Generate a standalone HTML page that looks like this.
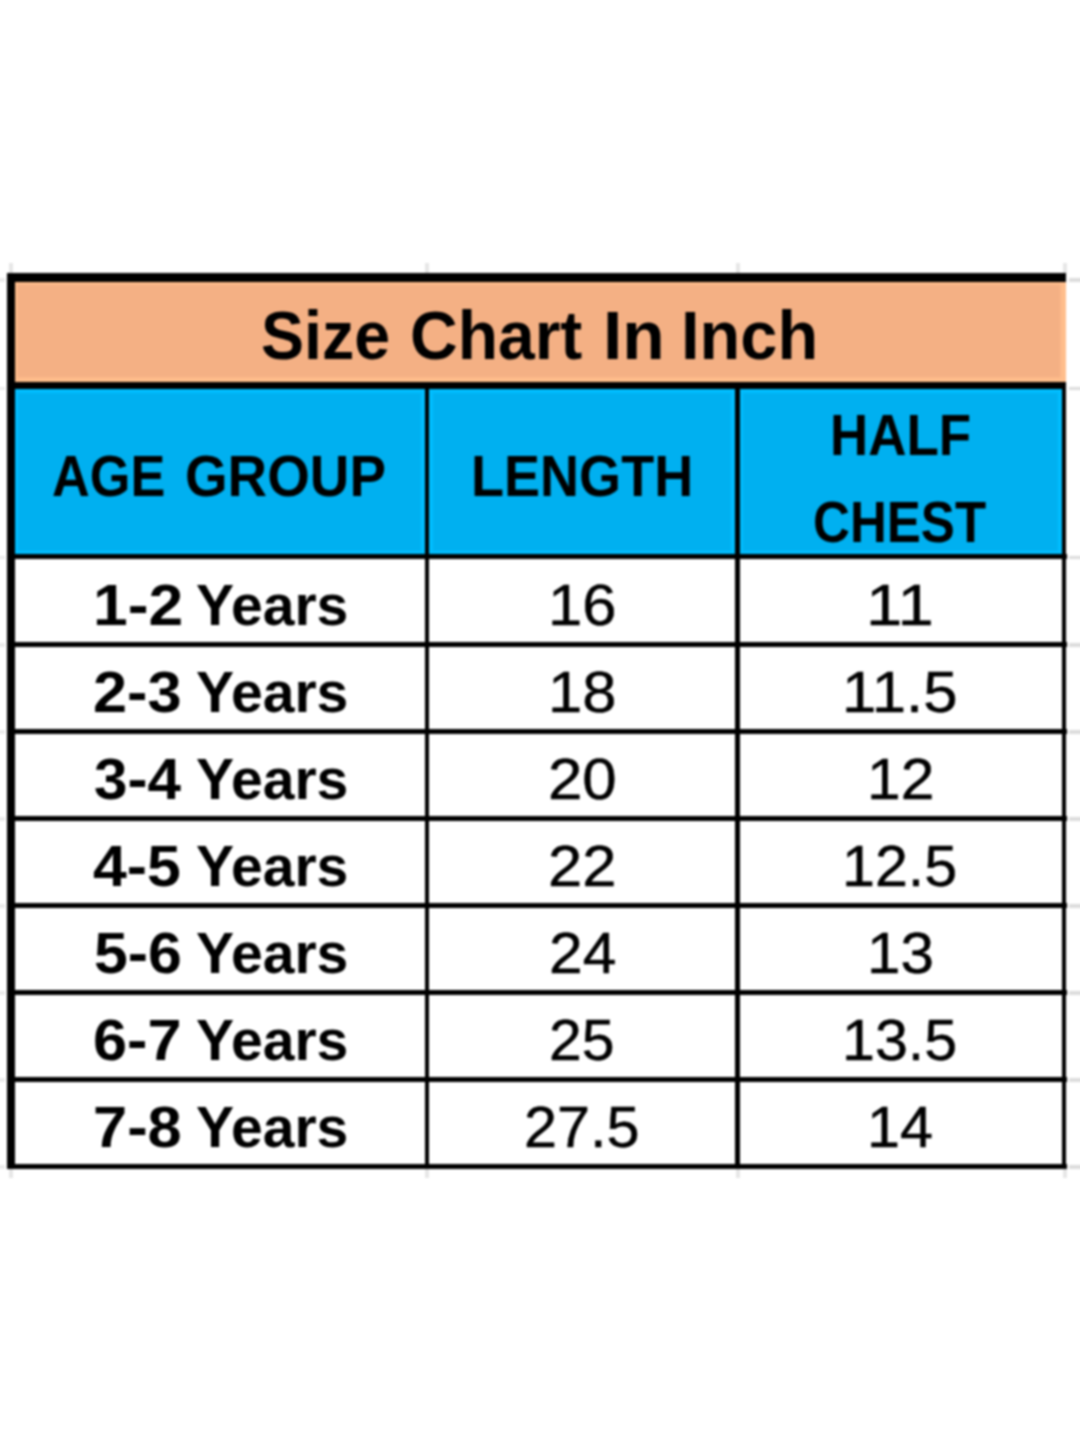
<!DOCTYPE html>
<html><head><meta charset="utf-8"><title>Size Chart In Inch</title>
<style>
html,body{margin:0;padding:0;background:#fff;}
body{width:1080px;height:1440px;position:relative;overflow:hidden;font-family:"Liberation Sans",sans-serif;color:#000;}
.r{position:absolute;}
.t{position:absolute;white-space:nowrap;transform-origin:0 0;font-weight:400;color:#000;-webkit-text-stroke:0.5px #000;}
.t.b{font-weight:700;color:#000;-webkit-text-stroke:0;}
#w{position:absolute;left:0;top:0;width:1080px;height:1440px;filter:blur(0.8px);}
</style></head><body><div id="w">
<div class="r" style="left:1069px;top:278.3px;width:21px;height:3.4px;background:#dcdcdc"></div>
<div class="r" style="left:-10px;top:278.3px;width:15px;height:3.4px;background:#ebebeb"></div>
<div class="r" style="left:1069px;top:386.5px;width:21px;height:3.4px;background:#dcdcdc"></div>
<div class="r" style="left:-10px;top:386.5px;width:15px;height:3.4px;background:#ebebeb"></div>
<div class="r" style="left:1069px;top:555.6px;width:21px;height:3.4px;background:#dcdcdc"></div>
<div class="r" style="left:-10px;top:555.6px;width:15px;height:3.4px;background:#ebebeb"></div>
<div class="r" style="left:1069px;top:643.3px;width:21px;height:3.4px;background:#dcdcdc"></div>
<div class="r" style="left:-10px;top:643.3px;width:15px;height:3.4px;background:#ebebeb"></div>
<div class="r" style="left:1069px;top:730.3px;width:21px;height:3.4px;background:#dcdcdc"></div>
<div class="r" style="left:-10px;top:730.3px;width:15px;height:3.4px;background:#ebebeb"></div>
<div class="r" style="left:1069px;top:817.3px;width:21px;height:3.4px;background:#dcdcdc"></div>
<div class="r" style="left:-10px;top:817.3px;width:15px;height:3.4px;background:#ebebeb"></div>
<div class="r" style="left:1069px;top:904.3px;width:21px;height:3.4px;background:#dcdcdc"></div>
<div class="r" style="left:-10px;top:904.3px;width:15px;height:3.4px;background:#ebebeb"></div>
<div class="r" style="left:1069px;top:991.3px;width:21px;height:3.4px;background:#dcdcdc"></div>
<div class="r" style="left:-10px;top:991.3px;width:15px;height:3.4px;background:#ebebeb"></div>
<div class="r" style="left:1069px;top:1078.3px;width:21px;height:3.4px;background:#dcdcdc"></div>
<div class="r" style="left:-10px;top:1078.3px;width:15px;height:3.4px;background:#ebebeb"></div>
<div class="r" style="left:1069px;top:1165.3px;width:21px;height:3.4px;background:#dcdcdc"></div>
<div class="r" style="left:-10px;top:1165.3px;width:15px;height:3.4px;background:#ebebeb"></div>
<div class="r" style="left:8.5px;top:263px;width:4px;height:10.5px;background:#e6e6e6"></div>
<div class="r" style="left:8.5px;top:1168.5px;width:4px;height:9.5px;background:#e6e6e6"></div>
<div class="r" style="left:425px;top:263px;width:4px;height:10.5px;background:#e6e6e6"></div>
<div class="r" style="left:425px;top:1168.5px;width:4px;height:9.5px;background:#e6e6e6"></div>
<div class="r" style="left:735.5px;top:263px;width:4px;height:10.5px;background:#e6e6e6"></div>
<div class="r" style="left:735.5px;top:1168.5px;width:4px;height:9.5px;background:#e6e6e6"></div>
<div class="r" style="left:1062.5px;top:263px;width:4px;height:10.5px;background:#e6e6e6"></div>
<div class="r" style="left:1062.5px;top:1168.5px;width:4px;height:9.5px;background:#e6e6e6"></div>
<div class="r" style="left:12px;top:279px;width:1053.7px;height:104px;background:#F4B084;box-shadow:inset 0 0 2px 5.5px #FFBE8C"></div>
<div class="r" style="left:12.4px;top:386.5px;width:414.4px;height:170.3px;background:#00B0F0;box-shadow:inset 0 0 2px 6px #00BEFF"></div>
<div class="r" style="left:426.5px;top:386.5px;width:310.7px;height:170.3px;background:#00B0F0;box-shadow:inset 0 0 2px 6px #00BEFF"></div>
<div class="r" style="left:737px;top:386.5px;width:327.2px;height:170.3px;background:#00B0F0;box-shadow:inset 0 0 2px 6px #00BEFF"></div>
<div class="r" style="left:7.2px;top:273.4px;width:1058.5px;height:8.2px;background:#000"></div>
<div class="r" style="left:7.2px;top:273.4px;width:7.4px;height:895.3px;background:#000"></div>
<div class="r" style="left:7.2px;top:382px;width:1058.5px;height:6.8px;background:#000"></div>
<div class="r" style="left:1062px;top:388px;width:4.3px;height:780.7px;background:#000"></div>
<div class="r" style="left:14px;top:554.2px;width:1052.5px;height:4.7px;background:#000"></div>
<div class="r" style="left:14px;top:641.7px;width:1052.5px;height:5px;background:#000"></div>
<div class="r" style="left:14px;top:728.7px;width:1052.5px;height:5px;background:#000"></div>
<div class="r" style="left:14px;top:815.7px;width:1052.5px;height:5px;background:#000"></div>
<div class="r" style="left:14px;top:902.7px;width:1052.5px;height:5px;background:#000"></div>
<div class="r" style="left:14px;top:989.7px;width:1052.5px;height:5px;background:#000"></div>
<div class="r" style="left:14px;top:1076.7px;width:1052.5px;height:5px;background:#000"></div>
<div class="r" style="left:14px;top:1163.7px;width:1052.5px;height:5px;background:#000"></div>
<div class="r" style="left:424.5px;top:388px;width:4.5px;height:780.7px;background:#000"></div>
<div class="r" style="left:735px;top:388px;width:4.6px;height:780.7px;background:#000"></div>
<div class="t b" style="left:261.07px;top:301.13px;font-size:68.36px;line-height:68.36px;transform:scaleX(0.9430)">Size</div>
<div class="t b" style="left:410.06px;top:301.13px;font-size:68.36px;line-height:68.36px;transform:scaleX(0.9655)">Chart</div>
<div class="t b" style="left:603.31px;top:301.13px;font-size:68.36px;line-height:68.36px;transform:scaleX(1.0162)">In</div>
<div class="t b" style="left:681.20px;top:301.13px;font-size:68.36px;line-height:68.36px;transform:scaleX(0.9759)">Inch</div>
<div class="t b" style="left:52.09px;top:446.75px;font-size:58.18px;line-height:58.18px;transform:scaleX(0.8984)">AGE</div>
<div class="t b" style="left:185.21px;top:446.75px;font-size:58.18px;line-height:58.18px;transform:scaleX(0.9420)">GROUP</div>
<div class="t b" style="left:470.85px;top:446.75px;font-size:58.18px;line-height:58.18px;transform:scaleX(0.9291)">LENGTH</div>
<div class="t b" style="left:830.43px;top:405.75px;font-size:58.18px;line-height:58.18px;transform:scaleX(0.9102)">HALF</div>
<div class="t b" style="left:813.06px;top:492.75px;font-size:58.18px;line-height:58.18px;transform:scaleX(0.8780)">CHEST</div>
<div class="t b" style="left:93.10px;top:575.75px;font-size:58.18px;line-height:58.18px;transform:scaleX(1.0729)">1-2</div>
<div class="t b" style="left:196.00px;top:575.75px;font-size:58.18px;line-height:58.18px;transform:scaleX(0.9812)">Years</div>
<div class="t" style="left:547.78px;top:575.75px;font-size:58.18px;line-height:58.18px;transform:scaleX(1.0581)">16</div>
<div class="t" style="left:866.21px;top:575.75px;font-size:58.18px;line-height:58.18px;transform:scaleX(1.1214)">11</div>
<div class="t b" style="left:92.85px;top:662.75px;font-size:58.18px;line-height:58.18px;transform:scaleX(1.0538)">2-3</div>
<div class="t b" style="left:196.00px;top:662.75px;font-size:58.18px;line-height:58.18px;transform:scaleX(0.9812)">Years</div>
<div class="t" style="left:547.78px;top:662.75px;font-size:58.18px;line-height:58.18px;transform:scaleX(1.0581)">18</div>
<div class="t" style="left:842.07px;top:662.75px;font-size:58.18px;line-height:58.18px;transform:scaleX(1.0606)">11.5</div>
<div class="t b" style="left:93.65px;top:749.75px;font-size:58.18px;line-height:58.18px;transform:scaleX(1.0343)">3-4</div>
<div class="t b" style="left:196.00px;top:749.75px;font-size:58.18px;line-height:58.18px;transform:scaleX(0.9812)">Years</div>
<div class="t" style="left:547.61px;top:749.75px;font-size:58.18px;line-height:58.18px;transform:scaleX(1.0623)">20</div>
<div class="t" style="left:866.55px;top:749.75px;font-size:58.18px;line-height:58.18px;transform:scaleX(1.0417)">12</div>
<div class="t b" style="left:93.09px;top:836.75px;font-size:58.18px;line-height:58.18px;transform:scaleX(1.0453)">4-5</div>
<div class="t b" style="left:196.00px;top:836.75px;font-size:58.18px;line-height:58.18px;transform:scaleX(0.9812)">Years</div>
<div class="t" style="left:547.63px;top:836.75px;font-size:58.18px;line-height:58.18px;transform:scaleX(1.0568)">22</div>
<div class="t" style="left:842.26px;top:836.75px;font-size:58.18px;line-height:58.18px;transform:scaleX(1.0172)">12.5</div>
<div class="t b" style="left:94.18px;top:923.75px;font-size:58.18px;line-height:58.18px;transform:scaleX(1.0450)">5-6</div>
<div class="t b" style="left:196.00px;top:923.75px;font-size:58.18px;line-height:58.18px;transform:scaleX(0.9812)">Years</div>
<div class="t" style="left:548.67px;top:923.75px;font-size:58.18px;line-height:58.18px;transform:scaleX(1.0421)">24</div>
<div class="t" style="left:866.59px;top:923.75px;font-size:58.18px;line-height:58.18px;transform:scaleX(1.0338)">13</div>
<div class="t b" style="left:93.40px;top:1010.75px;font-size:58.18px;line-height:58.18px;transform:scaleX(1.0527)">6-7</div>
<div class="t b" style="left:196.00px;top:1010.75px;font-size:58.18px;line-height:58.18px;transform:scaleX(0.9812)">Years</div>
<div class="t" style="left:548.75px;top:1010.75px;font-size:58.18px;line-height:58.18px;transform:scaleX(1.0127)">25</div>
<div class="t" style="left:842.26px;top:1010.75px;font-size:58.18px;line-height:58.18px;transform:scaleX(1.0172)">13.5</div>
<div class="t b" style="left:93.39px;top:1097.75px;font-size:58.18px;line-height:58.18px;transform:scaleX(1.0557)">7-8</div>
<div class="t b" style="left:196.00px;top:1097.75px;font-size:58.18px;line-height:58.18px;transform:scaleX(0.9812)">Years</div>
<div class="t" style="left:523.73px;top:1097.75px;font-size:58.18px;line-height:58.18px;transform:scaleX(1.0201)">27.5</div>
<div class="t" style="left:866.66px;top:1097.75px;font-size:58.18px;line-height:58.18px;transform:scaleX(1.0185)">14</div>
</div></body></html>
